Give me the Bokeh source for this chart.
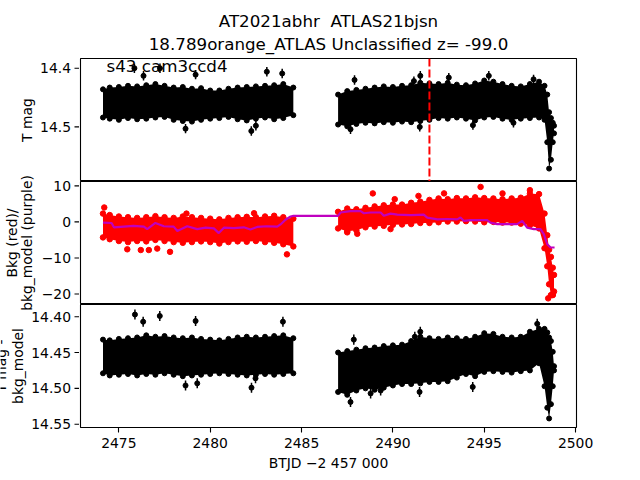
import math
from bokeh.plotting import figure
from bokeh.layouts import column, row
from bokeh.models import Range1d, FixedTicker, Span
from bokeh.core.properties import value
from bokeh.embed import file_html
from bokeh.resources import INLINE

# ---------------- texts ----------------
title_line1 = "AT2021abhr \u00a0ATLAS21bjsn"
title_line2 = "18.789orange_ATLAS Unclassified z= -99.0"
sector_text = "s43 cam3ccd4"
ylabel_top = "T mag"
ylabel_mid = ["Bkg (red)/", "bkg_model (purple)"]
ylabel_bot = ["T mag -", "bkg_model"]
xlabel = "BTJD \u22122 457 000"
event_time = 2492.0

# ---------------- ticks ----------------
x_ticks = [2475, 2480, 2485, 2490, 2495, 2500]
tmag_ticks = [14.4, 14.5]
tmag_tick_labels = ["14.4", "14.5"]
bkg_ticks = [-20, -10, 0, 10]
bkg_tick_labels = ["\u221220", "\u221210", "0", "10"]
diff_ticks = [14.40, 14.45, 14.50, 14.55]
diff_tick_labels = ["14.40", "14.45", "14.50", "14.55"]

# ---------------- data ----------------
seg1_time = [2474.13, 2474.5, 2475.0, 2475.5, 2476.0, 2476.5, 2477.0, 2477.5, 2478.0, 2478.5,
             2479.0, 2479.5, 2480.0, 2480.5, 2481.0, 2481.5, 2482.0, 2482.5, 2483.0, 2483.5,
             2484.0, 2484.55]
seg2_time = [2487.0, 2487.5, 2488.0, 2488.5, 2489.0, 2489.5, 2490.0, 2490.5, 2491.0, 2491.5,
             2492.0, 2492.5, 2493.0, 2493.5, 2494.0, 2494.5, 2495.0, 2495.5, 2496.0, 2496.5,
             2497.0, 2497.5, 2498.0, 2498.3, 2498.45, 2498.55, 2498.65, 2498.75, 2498.82]

# T mag band (bright edge / faint edge)
tmag_seg1_bright = [14.436, 14.433, 14.432, 14.430, 14.431, 14.429, 14.427, 14.430, 14.433, 14.432,
                    14.435, 14.434, 14.438, 14.438, 14.435, 14.433, 14.432, 14.431, 14.430, 14.429,
                    14.427, 14.433]
tmag_seg1_faint = [14.484, 14.486, 14.488, 14.485, 14.487, 14.486, 14.484, 14.483, 14.488, 14.490,
                   14.491, 14.488, 14.486, 14.485, 14.483, 14.487, 14.489, 14.486, 14.484, 14.487,
                   14.485, 14.480]
tmag_seg2_bright = [14.445, 14.439, 14.437, 14.435, 14.433, 14.431, 14.432, 14.430, 14.429, 14.425,
                    14.426, 14.427, 14.425, 14.428, 14.429, 14.426, 14.421, 14.423, 14.427, 14.430,
                    14.431, 14.427, 14.423, 14.430, 14.445, 14.475, 14.485, 14.493, 14.498]
tmag_seg2_faint = [14.496, 14.499, 14.495, 14.493, 14.494, 14.492, 14.493, 14.491, 14.492, 14.490,
                   14.488, 14.485, 14.486, 14.484, 14.486, 14.489, 14.484, 14.483, 14.486, 14.488,
                   14.486, 14.485, 14.484, 14.488, 14.526, 14.571, 14.556, 14.526, 14.511]
tmag_out_time = [2475.85, 2477.25, 2483.94, 2476.35, 2479.2, 2483.1, 2478.65, 2482.25, 2482.5,
                 2487.9, 2491.15, 2491.5, 2493.06, 2495.25, 2497.7, 2487.68, 2491.47, 2494.38, 2496.6]
tmag_out_mag = [14.400, 14.400, 14.409, 14.413, 14.411, 14.406, 14.503, 14.507, 14.498,
                14.420, 14.422, 14.413, 14.416, 14.413, 14.419, 14.504, 14.500, 14.497, 14.493]
tmag_err = 0.008

# Background (red) band
bkg_seg1_top = [2.3, 1.9, 1.5, 1.3, 1.1, 1.3, 1.6, 1.3, 1.1, 1.5, 1.3, 1.1, 0.9, 0.7, 1.1, 1.3,
                1.4, 1.3, 1.5, 1.7, 1.3, 0.9]
bkg_seg1_bottom = [-4.3, -4.8, -5.3, -5.6, -5.3, -5.4, -5.0, -5.3, -5.6, -5.8, -5.6, -5.4, -5.6,
                   -6.0, -5.6, -5.4, -5.5, -5.3, -5.6, -5.8, -6.2, -6.8]
bkg_seg2_top = [2.8, 3.7, 3.5, 3.9, 4.3, 4.6, 4.8, 4.8, 5.3, 5.6, 6.1, 6.5, 6.3, 6.6, 6.5, 6.8,
                6.6, 6.5, 6.3, 6.5, 6.7, 7.8, 7.7, 2.3, -3.7, -7.7, -9.7, -12.7, -14.7]
bkg_seg2_bottom = [-1.8, -2.6, -2.3, -1.5, -1.3, -1.1, -0.8, -0.7, -0.6, -0.3, -0.3, -0.1, 0.1,
                   0.1, 0.2, 0.1, -0.1, 0.0, -0.2, -0.2, -0.5, -0.9, -1.8, -7.3, -12.3, -17.3,
                   -20.3, -20.3, -19.3]
bkg_out_time = [2474.2, 2475.46, 2476.2, 2476.64, 2477.1, 2477.8, 2484.2, 2482.4, 2478.7,
                2488.9, 2494.8, 2497.5, 2490.1, 2491.4, 2487.5, 2488.05, 2489.87, 2498.5,
                2498.75, 2492.8, 2496.0]
bkg_out_val = [4.0, -7.6, -7.8, -7.8, -7.4, -8.3, -9.0, 2.4, 2.3, 7.9, 9.7, 8.8, 6.3, 7.2, -2.9,
               -3.3, -2.0, -21.2, -20.2, 7.9, 7.9]

# Background model (purple)
model_time = [2474.13, 2474.6, 2474.73, 2475.27, 2475.8, 2476.37, 2476.55, 2477.0, 2477.46,
              2478.0, 2478.2, 2478.74, 2479.29, 2479.75, 2480.2, 2480.47, 2480.75, 2481.3,
              2481.84, 2482.2, 2482.57, 2483.1, 2483.67, 2483.85, 2484.12, 2484.4, 2484.55,
              2487.0, 2487.13, 2487.68, 2488.23, 2488.41, 2488.78, 2489.33, 2489.5, 2489.87,
              2490.24, 2491.0, 2491.69, 2491.88, 2492.43, 2493.0, 2493.52, 2493.7, 2493.88,
              2494.25, 2495.16, 2495.34, 2495.71, 2496.44, 2496.8, 2497.08, 2497.35, 2497.72,
              2498.08, 2498.26, 2498.45, 2498.63, 2498.85]
model_val = [-0.2, -0.3, -1.5, -1.3, -1.1, -1.3, -2.0, -0.3, -1.2, -1.3, -2.5, -1.2, -2.0, -1.6,
             -1.8, -3.1, -1.6, -1.7, -1.5, -2.1, -1.4, -1.2, -1.3, -0.7, 0.6, 1.5, 1.66,
             1.66, 2.6, 3.0, 3.0, 2.4, 2.6, 2.6, 1.7, 2.3, 2.0, 1.9, 2.0, 1.2, 0.7, 0.8, 0.7,
             1.2, 0.3, 0.5, 0.5, -0.2, -0.6, -0.6, -0.6, 0.3, -1.6, -2.0, -2.0, -3.4, -6.2,
             -7.1, -7.1]

# T mag - bkg_model band
diff_seg1_bright = [14.432, 14.433, 14.431, 14.430, 14.429, 14.426, 14.428, 14.427, 14.429, 14.430,
                    14.429, 14.431, 14.432, 14.433, 14.431, 14.429, 14.428, 14.429, 14.428, 14.427,
                    14.426, 14.430]
diff_seg1_faint = [14.479, 14.482, 14.481, 14.480, 14.482, 14.480, 14.481, 14.479, 14.481, 14.483,
                   14.482, 14.481, 14.480, 14.479, 14.480, 14.481, 14.482, 14.481, 14.480, 14.481,
                   14.480, 14.479]
diff_seg2_bright = [14.450, 14.448, 14.446, 14.444, 14.443, 14.441, 14.440, 14.439, 14.434, 14.428,
                    14.430, 14.431, 14.429, 14.430, 14.431, 14.428, 14.423, 14.424, 14.428, 14.429,
                    14.428, 14.421, 14.417, 14.417, 14.422, 14.429, 14.434, 14.449, 14.469]
diff_seg2_faint = [14.505, 14.509, 14.503, 14.500, 14.502, 14.499, 14.496, 14.494, 14.494, 14.493,
                   14.491, 14.491, 14.490, 14.485, 14.480, 14.483, 14.477, 14.476, 14.477, 14.478,
                   14.476, 14.475, 14.465, 14.497, 14.527, 14.542, 14.522, 14.497, 14.475]
diff_out_time = [2475.88, 2477.24, 2476.33, 2479.2, 2483.98, 2478.65, 2479.29, 2482.26, 2482.48,
                 2487.86, 2491.2, 2491.5, 2497.9, 2487.68, 2491.46, 2494.37, 2488.78, 2489.33]
diff_out_mag = [14.397, 14.399, 14.407, 14.406, 14.407, 14.496, 14.493, 14.499, 14.486,
                14.432, 14.428, 14.421, 14.410, 14.519, 14.505, 14.498, 14.507, 14.503]
diff_err = 0.007

# ---------------- layout (pixel geometry of the page) ----------------
FONT = "DejaVu Sans"
PAGE_W = 640
TITLE_H = 57            # title strip: page y 0..57
GUT = 79                # left gutter: page x 0..79
FW, FH = 496, 123       # frame size
BR = 64                 # right border of panels
BOTTOM_B = 50
P1_TOP, P2_TOP, P3_TOP = 58, 181, 304   # frame tops on page
PAGE_BOTTOM = TITLE_H + 1 + FH + FH + FH + BOTTOM_B
X0, X1 = 2472.90, 2500.05
Y1 = (14.3835, 14.593)   # (top, bottom) value of panel 1
Y2 = (11.2, -22.9)
Y3 = (14.383, 14.5546)
xr = Range1d(X0, X1)


def val_at(py, top_px, yr):
    return yr[0] + (py - top_px) / FH * (yr[1] - yr[0])


def plain(p):
    p.grid.visible = False
    p.background_fill_color = "white"
    p.border_fill_color = "white"


def make_panel(yr, top, bottom, xaxis):
    p = figure(width=FW + BR + 1, height=FH + top + bottom, x_range=xr,
               y_range=Range1d(yr[1], yr[0]),
               output_backend="svg", toolbar_location=None, title_location=None,
               x_axis_location="below" if xaxis else None, y_axis_location=None,
               min_border=0, min_border_left=1, min_border_right=BR,
               min_border_top=top, min_border_bottom=bottom)
    plain(p)
    p.outline_line_color = "black"
    p.outline_line_width = 1.1
    p.outline_line_alpha = 1.0
    for ax in p.axis:
        ax.axis_line_color = None
        ax.major_tick_out = 5
        ax.major_tick_in = 0
        ax.minor_tick_out = 0
        ax.minor_tick_in = 0
        ax.major_tick_line_width = 1.1
        ax.major_label_text_font = FONT
        ax.major_label_text_font_size = "13.9px"
        ax.major_label_text_color = "black"
        ax.major_label_standoff = 5
    return p


def band(p, t, a, b, color, size):
    p.varea(x=t, y1=a, y2=b, fill_color=color, fill_alpha=1.0)
    p.scatter(t, a, size=size, color=color)
    p.scatter(t, b, size=size, color=color)


def outliers(p, t, m, err, color, size):
    p.segment(x0=t, y0=[v - err for v in m], x1=t, y1=[v + err for v in m],
              line_color=color, line_width=1.5)
    p.scatter(t, m, size=size, color=color)


def txt(p, x, y, s, size="13.9px", align="center", angle=0.0, **kw):
    # anchored at the vertical middle of the text
    p.text(x=x, y=y, text=s, text_font=value(FONT), text_font_size=value(size),
           text_color="black", text_align=align, text_baseline="middle", angle=angle, **kw)


# ---- Title strip ----
ptitle = figure(width=PAGE_W, height=TITLE_H, x_range=Range1d(0, PAGE_W),
                y_range=Range1d(TITLE_H, 0), output_backend="svg", toolbar_location=None,
                title_location=None, x_axis_location=None, y_axis_location=None,
                min_border=0, min_border_left=0, min_border_right=0,
                min_border_top=0, min_border_bottom=0)
plain(ptitle)
ptitle.outline_line_color = None
txt(ptitle, [328, 328], [20.3, 43.3], [title_line1, title_line2], size="16.7px")

# ---- Panel 1: T mag ----
p1 = make_panel(Y1, 1, 0, False)
band(p1, seg1_time, tmag_seg1_bright, tmag_seg1_faint, "black", 5)
band(p1, seg2_time, tmag_seg2_bright, tmag_seg2_faint, "black", 5)
outliers(p1, tmag_out_time, tmag_out_mag, tmag_err, "black", 5)
p1.add_layout(Span(location=event_time, dimension="height", line_color="red",
                   line_dash="8 3", line_width=2))
txt(p1, [X0 + (106 - 80) / FW * (X1 - X0)], [val_at(65.3, P1_TOP, Y1)], [sector_text],
    size="16.7px", align="left")

# ---- Panel 2: background ----
p2 = make_panel(Y2, 0, 0, False)
band(p2, seg1_time, bkg_seg1_top, bkg_seg1_bottom, "red", 5.5)
band(p2, seg2_time, bkg_seg2_top, bkg_seg2_bottom, "red", 5.5)
p2.scatter(bkg_out_time, bkg_out_val, size=5.5, color="red")
p2.line(model_time, model_val, line_color="#bf00bf", line_width=2.2)

# ---- Panel 3: T mag - bkg_model ----
p3 = make_panel(Y3, 0, BOTTOM_B, True)
p3.xaxis.ticker = FixedTicker(ticks=x_ticks)
p3.xaxis.axis_label = xlabel
p3.xaxis.axis_label_text_font = FONT
p3.xaxis.axis_label_text_font_size = "13.9px"
p3.xaxis.axis_label_text_font_style = "normal"
p3.xaxis.axis_label_text_color = "black"
p3.xaxis.axis_label_standoff = 4
band(p3, seg1_time, diff_seg1_bright, diff_seg1_faint, "black", 5)
band(p3, seg2_time, diff_seg2_bright, diff_seg2_faint, "black", 5)
outliers(p3, diff_out_time, diff_out_mag, diff_err, "black", 5)

# ---- Left gutter: y tick marks, tick labels and y labels ----
g = figure(width=GUT, height=PAGE_BOTTOM - TITLE_H, x_range=Range1d(0, GUT),
           y_range=Range1d(PAGE_BOTTOM, TITLE_H), output_backend="svg",
           toolbar_location=None, title_location=None,
           x_axis_location=None, y_axis_location=None,
           min_border=0, min_border_left=0, min_border_right=0,
           min_border_top=0, min_border_bottom=0)
plain(g)
g.outline_line_color = None
for name, yr, top in [("r1", Y1, P1_TOP), ("r2", Y2, P2_TOP), ("r3", Y3, P3_TOP)]:
    g.extra_y_ranges[name] = Range1d(val_at(PAGE_BOTTOM, top, yr), val_at(TITLE_H, top, yr))
for name, ticks, labels in [("r1", tmag_ticks, tmag_tick_labels),
                            ("r2", bkg_ticks, bkg_tick_labels),
                            ("r3", diff_ticks, diff_tick_labels)]:
    g.segment(x0=[GUT - 5] * len(ticks), y0=ticks, x1=[GUT] * len(ticks), y1=ticks,
              line_color="black", line_width=1.1, y_range_name=name)
    txt(g, [70.5] * len(ticks), ticks, labels, align="right", y_range_name=name)
half_pi = math.pi / 2
txt(g, [26.5], [119.5], [ylabel_top], angle=half_pi)
txt(g, [11.0, 26.8], [242.5, 242.5], ylabel_mid, angle=half_pi)
txt(g, [0.8, 17.0], [365.5, 365.5], ylabel_bot, angle=half_pi)

layout = column(ptitle, row(g, column(p1, p2, p3)))
open("out.html", "w").write(file_html(layout, INLINE))
